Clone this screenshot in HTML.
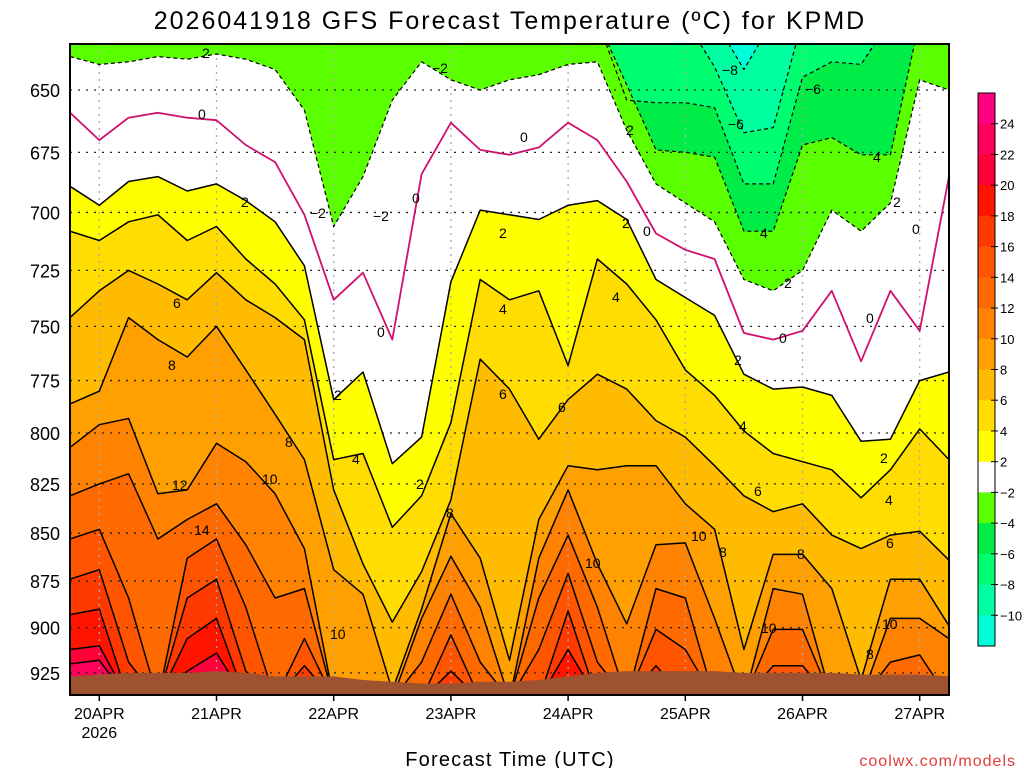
<!DOCTYPE html>
<html><head><meta charset="utf-8">
<style>
html,body{margin:0;padding:0;background:#fff;}
svg{display:block;font-family:"Liberation Sans",sans-serif;}
</style></head>
<body>
<svg id="chart" width="1024" height="768" viewBox="0 0 1024 768" xmlns="http://www.w3.org/2000/svg">
  <defs><clipPath id="plotclip"><rect x="70" y="44" width="879" height="651"/></clipPath></defs>
  <text x="510" y="29" text-anchor="middle" font-size="25" letter-spacing="2" fill="#000">2026041918 GFS Forecast Temperature (ºC) for KPMD</text>
  <g id="plot" clip-path="url(#plotclip)"></g>
  <rect x="70" y="44" width="879" height="651" fill="none" stroke="#000" stroke-width="2"/>
  <g id="yaxis"></g>
  <g id="xaxis"></g>
  <text x="510" y="766" text-anchor="middle" font-size="20" letter-spacing="1.2" fill="#000">Forecast Time (UTC)</text>
  <text x="1016" y="766" text-anchor="end" font-size="16" letter-spacing="1" fill="#e03c3c">coolwx.com/models</text>
  <g id="cbar"></g>
  <g id="labels" font-size="14" fill="#000">
    <text x="202" y="58">2</text><text x="432" y="73">−2</text><text x="722" y="75">−8</text><text x="805" y="94">−6</text>
    <text x="728" y="129">−6</text><text x="626" y="135">2</text><text x="198" y="119">0</text><text x="520" y="142">0</text>
    <text x="873" y="162">4</text><text x="310" y="218">−2</text><text x="373" y="221">−2</text><text x="412" y="203">0</text>
    <text x="241" y="207">2</text><text x="499" y="238">2</text><text x="622" y="228">2</text><text x="643" y="236">0</text>
    <text x="893" y="207">2</text><text x="912" y="234">0</text><text x="760" y="238">4</text><text x="784" y="288">2</text>
    <text x="173" y="308">6</text><text x="499" y="314">4</text><text x="612" y="302">4</text><text x="866" y="323">0</text>
    <text x="377" y="337">0</text><text x="779" y="343">0</text><text x="168" y="370">8</text><text x="734" y="365">2</text>
    <text x="334" y="400">2</text><text x="499" y="399">6</text><text x="558" y="412">6</text><text x="285" y="447">8</text>
    <text x="352" y="464">4</text><text x="739" y="431">4</text><text x="880" y="463">2</text><text x="416" y="489">2</text>
    <text x="262" y="484">10</text><text x="172" y="490">12</text><text x="194" y="535">14</text><text x="754" y="496">6</text>
    <text x="885" y="505">4</text><text x="446" y="518">8</text><text x="691" y="541">10</text><text x="719" y="557">8</text>
    <text x="797" y="559">8</text><text x="886" y="548">6</text><text x="585" y="568">10</text><text x="330" y="639">10</text>
    <text x="761" y="633">10</text><text x="882" y="629">10</text><text x="866" y="659">8</text>
  </g>
</svg>
<script>
// ---- data: forecast hours (categories) ----
const hours = [0,6,12,18,24,30,36,42,48,54,60,66,72,78,84,90,96,102,108,114,120,126,132,138,144,150,156,162,168,174,180];
// ---- isotherm pressure levels (hPa) per forecast hour ----
const isoM10 = [620,620,620,620,620,620,620,620,620,620,620,620,620,620,620,620,620,620,620,620,620,620,620,642,620,620,620,620,620,620,620];
const isoM8  = [620,620,620,620,620,620,620,620,620,620,620,620,620,620,620,620,620,620,620,620,620,620,641,667,665,620,620,620,620,620,620];
const isoM6  = [620,620,620,620,620,620,620,620,620,620,620,620,620,620,620,620,620,620,620,654,655,655,657,688,688,645,639,640,620,620,620];
const isoM4  = [620,620,620,620,620,620,620,620,620,620,620,620,620,620,620,620,620,620,620,648,674,675,677,708,708,672,669,676,676,620,620];
const isoM2  = [637,640,639,637,638,636,638,642,658,706,685,654,639,646,650,646,644,640,639,666,688,696,704,729,734,725,699,708,696,646,650];
const iso0   = [659,670,661,659,661,662,672,679,701,738,726,756,684,663,674,676,673,663,670,687,709,716,720,753,756,752,734,766,734,752,685];
const iso2   = [689,697,687,685,691,688,695,704,723,784,771,815,802,730,699,701,703,697,695,703,729,737,745,772,779,778,782,804,803,775,771];
const iso4   = [708,712,704,701,712,706,720,731,747,813,810,847,831,795,729,738,734,768,720,731,747,770,782,799,810,814,818,832,818,798,813];
const iso6   = [746,734,725,731,738,726,738,746,756,828,866,897,870,833,765,779,803,784,772,779,794,802,816,831,839,835,851,858,851,849,864];
const iso8   = [786,780,746,756,764,750,770,791,813,869,882,935,890,840,863,918,843,816,818,816,816,835,848,912,861,861,879,929,874,874,899];
const iso10  = [807,796,793,830,828,805,814,830,858,940,940,940,895,862,889,940,863,828,866,898,856,855,895,940,879,882,940,940,895,895,906];
const iso12  = [831,825,820,853,843,835,856,884,879,940,940,940,919,882,919,940,884,851,889,940,879,884,940,940,901,901,940,940,919,915,940];
const iso14  = [853,848,884,940,863,853,889,940,906,940,940,940,940,904,940,940,912,871,919,940,901,912,940,940,921,921,940,940,940,940,940];
const iso16  = [874,869,919,940,884,874,924,940,921,940,940,940,940,924,940,940,940,891,940,940,921,940,940,940,940,940,940,940,940,940,940];
const iso18  = [893,890,940,940,906,895,940,940,940,940,940,940,940,940,940,940,940,912,940,940,940,940,940,940,940,940,940,940,940,940,940];
const iso20  = [912,910,940,940,924,914,940,940,940,940,940,940,940,940,940,940,940,940,940,940,940,940,940,940,940,940,940,940,940,940,940];
const iso22  = [920,918,940,940,940,940,940,940,940,940,940,940,940,940,940,940,940,940,940,940,940,940,940,940,940,940,940,940,940,940,940];
const groundP = [927,926,925,925,925,924,925,927,927,927,929,930,931,931,930,930,929,927,925,924,924,924,924,925,925,925,925,926,926,926,927];
const isoLevels = [-10,-8,-6,-4,-2,0,2,4,6,8,10,12,14,16,18,20,22];
const yTicks = [650,675,700,725,750,775,800,825,850,875,900,925];
const dayHours = [6,30,54,78,102,126,150,174];
const dayLabels = ["20APR","21APR","22APR","23APR","24APR","25APR","26APR","27APR"];
const cbarLabels = ["24","22","20","18","16","14","12","10","8","6","4","2","−2","−4","−6","−8","−10"];

const isoSeries = [isoM10,isoM8,isoM6,isoM4,isoM2,iso0,iso2,iso4,iso6,iso8,iso10,iso12,iso14,iso16,iso18,iso20,iso22];
const coldColor = "#00ffd8";
const bandColors = ["#00ffa0","#00ff70","#00ec46","#5aff00","#ffffff",null,"#ffff00","#ffdd00","#ffbb00","#ffa000","#ff8200","#ff6a00","#ff5500","#ff3a00","#ff1400","#ff0038","#ff005a"];
const cbarColors = ["#ff0080","#ff005a","#ff0038","#ff1400","#ff3a00","#ff5500","#ff6a00","#ff8200","#ffa000","#ffbb00","#ffdd00","#ffff00","#ffffff","#5aff00","#00ec46","#00ff70","#00ffa0","#00ffd8"];

const NS = "http://www.w3.org/2000/svg";
const X0 = 70, X1 = 949, Y0 = 44, Y1 = 695;
function xScale(h){ return X0 + h/180*(X1-X0); }
function yScale(p){ return 90 + 1652*Math.log(p/650); }
function mk(tag, attrs, parent){ const e=document.createElementNS(NS,tag); for(const k in attrs) e.setAttribute(k,attrs[k]); parent.appendChild(e); return e; }
function pts(arr){ return arr.map((p,i)=>xScale(hours[i]).toFixed(1)+","+Math.max(20,Math.min(720,yScale(p))).toFixed(1)); }

const plot = document.getElementById('plot');
const bg = mk('rect',{x:X0,y:Y0,width:X1-X0,height:Y1-Y0,fill:coldColor},plot);



isoSeries.forEach((arr,k)=>{
  if(!bandColors[k]) return;
  const poly = pts(arr).join(" ")+` ${X1+5},730 ${X0-5},730`;
  const pg = mk('polygon',{points:poly,fill:bandColors[k],stroke:'none'},plot);
  
  
});

yTicks.forEach(p=>{
  const g = mk('line',{x1:X0,x2:X1,y1:yScale(p),y2:yScale(p),stroke:'#222','stroke-width':1.3,'stroke-dasharray':'2 6'},plot);
  
  
});
dayHours.forEach(h=>{
  const g = mk('line',{x1:xScale(h),x2:xScale(h),y1:Y0,y2:Y1,stroke:'#aaa','stroke-width':1.3,'stroke-dasharray':'2 5'},plot);
  
  
});

isoSeries.forEach((arr,k)=>{
  const t = isoLevels[k];
  const attrs = {points:pts(arr).join(" "),fill:'none','stroke-width':1.5,'stroke-linejoin':'round'};
  if(t===0){ attrs.stroke='#d0106f'; attrs['stroke-width']=1.8; }
  else if(t<0){ attrs.stroke='#000'; attrs['stroke-dasharray']='4 3'; attrs['stroke-width']=1.2; }
  else attrs.stroke='#000';
  const l = mk('polyline',attrs,plot);
  
  
});

const gpoly = pts(groundP).join(" ")+` ${X1+5},730 ${X0-5},730`;
const gr = mk('polygon',{points:gpoly,fill:'#9e5230'},plot);



const ya = document.getElementById('yaxis');
yTicks.forEach(p=>{
  const t = mk('text',{x:60,y:yScale(p)+7,'text-anchor':'end','font-size':18,fill:'#000'},ya);
  t.textContent = p;
  
  
});
const xa = document.getElementById('xaxis');
dayHours.forEach((h,i)=>{
  const tk = mk('line',{x1:xScale(h),x2:xScale(h),y1:Y1,y2:Y1+6,stroke:'#000','stroke-width':1.5},xa);
  
  
  const t = mk('text',{x:xScale(h),y:719,'text-anchor':'middle','font-size':16,fill:'#000'},xa);
  t.textContent = dayLabels[i];
  
  
});
const yr = mk('text',{x:xScale(6),y:738,'text-anchor':'middle','font-size':16,fill:'#000'},xa);
yr.textContent = "2026";



const cb = document.getElementById('cbar');
const CBX=978, CBY=93, CBW=17, BH=(646-93)/18;
cbarColors.forEach((c,i)=>{
  const r = mk('rect',{x:CBX,y:CBY+i*BH,width:CBW,height:BH+0.5,fill:c},cb);
  
  
});
const cbf = mk('rect',{x:CBX,y:CBY,width:CBW,height:646-93,fill:'none',stroke:'#000','stroke-width':1},cb);


cbarLabels.forEach((s,i)=>{
  const yy = CBY+(i+1)*BH;
  const tk = mk('line',{x1:CBX+CBW-4,x2:CBX+CBW+3,y1:yy,y2:yy,stroke:'#000','stroke-width':1},cb);
  
  
  const t = mk('text',{x:1000,y:yy+5,'font-size':13,fill:'#000'},cb);
  t.textContent = s;
  
  
});
</script>
</body></html>
